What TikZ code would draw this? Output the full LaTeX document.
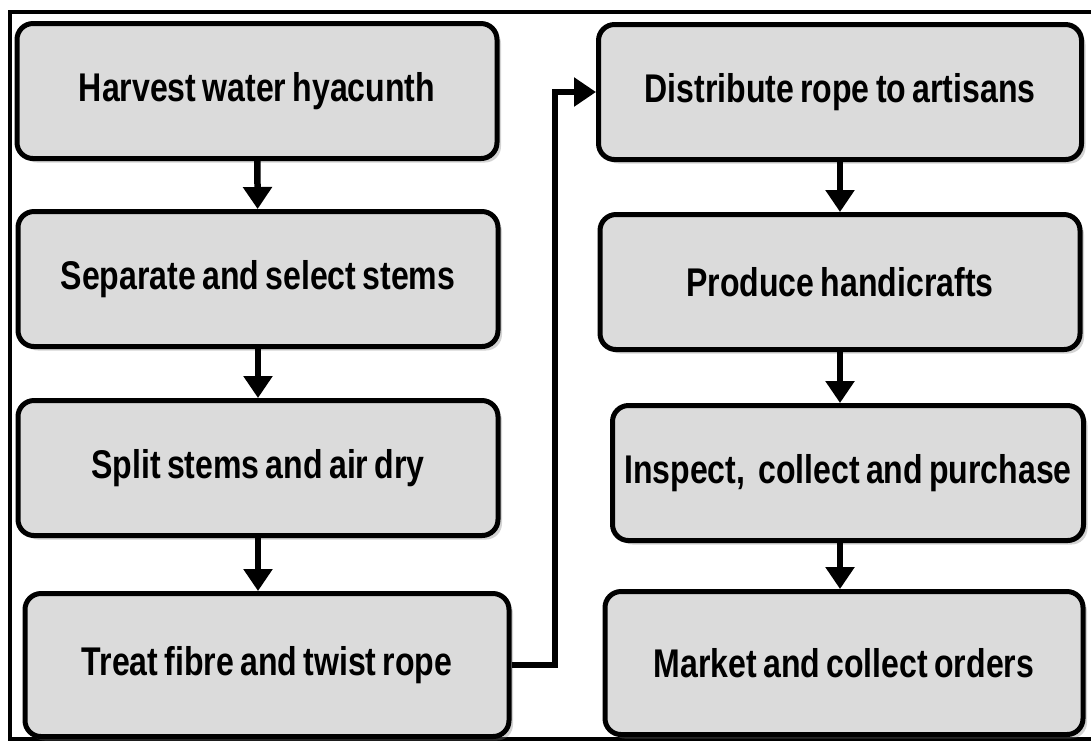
\documentclass[tikz,border=0pt]{standalone}
\usepackage{fontspec}
\setmainfont{Liberation Sans}
\newfontfamily\narrowfont{Liberation Sans}[FakeStretch=0.8, WordSpace=0.7]
\usetikzlibrary{arrows.meta,shadows}
\definecolor{boxgray}{gray}{0.86}

\begin{document}
\begin{tikzpicture}[
    x=0.1mm, y=-0.1mm,
    stepbox/.style = {draw, line width=0.5mm, rounded corners=1.6mm,
                      fill=boxgray, minimum width=48mm, minimum height=13.5mm,
                      inner sep=0pt,
                      font=\narrowfont\fontsize{11.4}{12}\selectfont\bfseries,
                      drop shadow={shadow xshift=0.4mm, shadow yshift=-0.4mm,
                                   opacity=0.35, fill=gray}},
    % filled triangle head, as in the original flow chart
    flow/.style    = {-{Triangle[length=2.2mm, width=2.8mm]}, line width=0.65mm},
    frame/.style   = {line width=0.4mm},
]
\useasboundingbox (0,0) rectangle (1091,743);

% ============================================================
%  OUTER FRAME (right side cut off in the original)
% ============================================================
\draw[frame] (1091,12) -- (10,12) -- (10,739) -- (1091,739);

% ----------------------------------------------------------
%  LEFT COLUMN  -  fibre and rope
% ----------------------------------------------------------
\node[stepbox] (harvest)  at (257, 91) {Harvest water hyacunth};
\node[stepbox] (separate) at (258,279) {Separate and select stems};
\node[stepbox] (split)    at (258,468) {Split stems and air dry};
\node[stepbox, minimum width=48.4mm, minimum height=14.3mm]
               (treat)    at (267,665) {Treat fibre and twist rope};

% ----------------------------------------------------------
%  RIGHT COLUMN  -  handicrafts and market
% ----------------------------------------------------------
\node[stepbox, minimum width=48.3mm] (distribute) at (840, 92) {Distribute rope to artisans};
\node[stepbox]                       (produce)    at (840,282) {Produce handicrafts};
\node[stepbox, minimum width=47.1mm] (inspect)    at (848,473) {Inspect,\, collect and purchase};
\node[stepbox, minimum width=47.8mm, minimum height=14.3mm]
                                     (market)     at (844,663) {Market and collect orders};

% ============================================================
%  ARROWS
% ============================================================
\draw[flow] (harvest)  -- (separate);
\draw[flow] (separate) -- (split);
\draw[flow] (split)    -- (treat.north -| split);

% ---- treat -> distribute, up the middle ------------------
\coordinate (bend) at (555,665);
\draw[flow] (treat.east) -- (bend) |- (distribute.west);

\draw[flow] (distribute) -- (produce);
\draw[flow] (produce)    -- (inspect.north -| produce);
\draw[flow] (inspect.south -| produce) -- (market.north -| produce);

\end{tikzpicture}
\end{document}
